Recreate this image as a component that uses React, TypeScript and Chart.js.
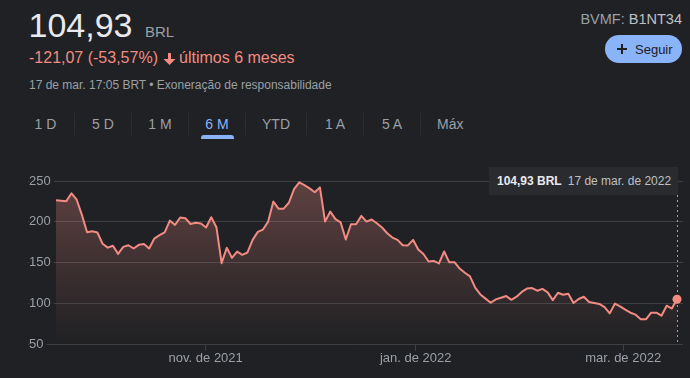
import React, { useEffect, useRef } from "react";
import { Chart, registerables } from "chart.js";

Chart.register(...registerables);

// ---- data ----
const prices: number[] = [
  226.3, 225.8, 225.3, 234.9, 227, 208.4, 187.2, 188.4, 186.8, 173,
  168.2, 170.6, 160.6, 169.2, 171.2, 167.2, 171.7, 172.7, 167.2, 179.4,
  183.5, 187, 201.4, 196.1, 205.2, 204.3, 197.2, 198.8, 197.8, 192.9,
  205.5, 193.3, 149.2, 168, 155.7, 163.3, 159.4, 162.3, 177.8, 187.6,
  190.4, 200.2, 224.7, 216, 216, 223.3, 240, 248.4, 245, 241,
  236.1, 242.2, 200.2, 212.5, 203.3, 199.2, 178.2, 197, 197, 207.2,
  200.2, 202.7, 198.2, 192.9, 185.9, 180.6, 177.8, 171.2, 171, 177.8,
  166, 160.4, 151.2, 152, 148.8, 163.5, 150.2, 150.4, 142.6, 137.4,
  132.9, 119.2, 110.8, 105.7, 100.6, 104.7, 106.8, 108.8, 104.2, 108,
  113.9, 118, 118.6, 115.4, 117.6, 113.3, 103.8, 112.9, 110.5, 111.7,
  100.3, 105.2, 108, 101.5, 100.3, 99.2, 95.2, 87.6, 99.5, 96.2,
  92.1, 88.4, 86, 80.3, 80.3, 88.4, 88.4, 84.7, 97, 93.5,
  104.93,
];
const pointIndex: number[] = prices.map((_, i) => i);
const xTickPositions: number[] = [28.93, 69.5, 109.6];
const xTickLabels: string[] = ["nov. de 2021", "jan. de 2022", "mar. de 2022"];
const yTickValues: number[] = [50, 100, 150, 200, 250];
const tabs: string[] = ["1 D", "5 D", "1 M", "6 M", "YTD", "1 A", "5 A", "Máx"];
const activeTab = "6 M";

const priceText = "104,93";
const currency = "BRL";
const changeText = "-121,07 (-53,57%)";
const periodText = "últimos 6 meses";
const infoText = "17 de mar. 17:05 BRT • Exoneração de responsabilidade";
const exchangeText = "BVMF:";
const tickerText = "B1NT34";
const followText = "Seguir";
const tooltipPrice = "104,93 BRL";
const tooltipDate = "17 de mar. de 2022";

const FONT = "'Liberation Sans', Arial, sans-serif";
const BG = "#202124";
const RED = "#f28b82";
const GREY = "#9aa0a6";
const GRID = "#3c4043";

const markerPlugin = {
  id: "marker",
  beforeDatasetsDraw(chart: any) {
    const meta = chart.getDatasetMeta(0);
    const pt = meta.data[meta.data.length - 1];
    if (!pt) return;
    const ctx = chart.ctx;
    const x = Math.round(pt.x) + 0.5;
    ctx.save();
    ctx.strokeStyle = "#9aa0a6";
    ctx.lineWidth = 1;
    ctx.setLineDash([2, 3]);
    ctx.beginPath();
    ctx.moveTo(x, 30);
    ctx.lineTo(x, chart.chartArea.bottom);
    ctx.stroke();
    ctx.restore();
  },
};

function PriceChart() {
  const ref = useRef<HTMLCanvasElement | null>(null);
  useEffect(() => {
    if (!ref.current) return;
    Chart.defaults.font.family = FONT;
    const last = prices.length - 1;
    const chart = new Chart(ref.current, {
      type: "line",
      data: {
        datasets: [
          {
            data: pointIndex.map((i) => ({ x: i, y: prices[i] })),
            borderColor: RED,
            borderWidth: 2,
            borderJoinStyle: "round",
            tension: 0,
            fill: "start",
            backgroundColor: (c: any) => {
              const area = c.chart.chartArea;
              if (!area) return "rgba(0,0,0,0)";
              const g = c.chart.ctx.createLinearGradient(0, area.top, 0, area.bottom);
              g.addColorStop(0, "rgba(242,139,130,0.30)");
              g.addColorStop(1, "rgba(242,139,130,0.0)");
              return g;
            },
            pointRadius: (c: any) => (c.dataIndex === last ? 4.5 : 0),
            pointBackgroundColor: RED,
            pointBorderWidth: 0,
            pointHoverRadius: 0,
          } as any,
        ],
      },
      options: {
        responsive: false,
        animation: false,
        events: [],
        layout: { padding: { top: 16, right: 7, left: 0, bottom: 0 } },
        plugins: { legend: { display: false }, tooltip: { enabled: false } },
        scales: {
          x: {
            type: "linear",
            min: -5.41,
            max: 121.16,
            afterBuildTicks: (s: any) => {
              s.ticks = xTickPositions.map((v) => ({ value: v }));
            },
            afterFit: (s: any) => {
              s.height = 34;
            },
            grid: { drawOnChartArea: false, drawTicks: true, tickLength: 7, color: GRID },
            border: { display: false },
            ticks: {
              autoSkip: false,
              maxRotation: 0,
              color: GREY,
              font: { size: 13 },
              padding: 0,
              callback: (_v: any, i: number) => xTickLabels[i],
            },
          },
          y: {
            min: 50,
            max: 250,
            afterBuildTicks: (s: any) => {
              s.ticks = yTickValues.map((v) => ({ value: v }));
            },
            afterFit: (s: any) => {
              s.width = 28;
            },
            grid: { color: GRID, drawTicks: false, lineWidth: 1 },
            border: { display: false },
            ticks: {
              mirror: true,
              padding: 1,
              color: GREY,
              font: { size: 13 },
              showLabelBackdrop: true,
              backdropColor: BG,
              backdropPadding: { top: 0, bottom: 0, left: 0, right: 3 },
            } as any,
          },
        },
      },
      plugins: [markerPlugin],
    } as any);
    return () => chart.destroy();
  }, []);
  return (
    <canvas
      ref={ref}
      width={690}
      height={213}
      style={{ position: "absolute", left: 0, top: 165, width: 690, height: 213 }}
    />
  );
}

export default function App() {
  useEffect(() => {
    document.body.style.margin = "0";
    document.body.style.background = BG;
  }, []);
  const abs = (o: any): any => ({ position: "absolute", whiteSpace: "nowrap", ...o });
  return (
    <div
      style={{
        position: "relative",
        width: 690,
        height: 378,
        background: BG,
        overflow: "hidden",
        fontFamily: FONT,
      }}
    >
      <div style={abs({ left: 28.5, top: 8, fontSize: 34, lineHeight: "34px", color: "#e8eaed" })}>
        {priceText}
      </div>
      <div style={abs({ left: 145, top: 24, fontSize: 15, lineHeight: "15px", color: GREY })}>{currency}</div>
      <div style={abs({ left: 29, top: 50, fontSize: 16, lineHeight: "16px", color: RED })}>{changeText}</div>
      <svg width="13" height="12" viewBox="0 0 13 12" style={{ position: "absolute", left: 163, top: 52.5 }}>
        <path fill={RED} d="M5 0h3v6h4.5L6.5 12 0.5 6H5z" />
      </svg>
      <div style={abs({ left: 179, top: 50, fontSize: 16, lineHeight: "16px", color: RED })}>{periodText}</div>
      <div style={abs({ left: 29, top: 79, fontSize: 12, lineHeight: "12px", color: GREY })}>{infoText}</div>

      <div style={abs({ right: 8, top: 12, fontSize: 14.5, lineHeight: "14.5px", color: GREY })}>
        {exchangeText} <span style={{ color: "#bdc1c6" }}>{tickerText}</span>
      </div>
      <div
        style={abs({
          left: 605,
          top: 35,
          width: 77,
          height: 28,
          borderRadius: 14,
          background: "#8ab4f8",
        })}
      >
        <svg width="12" height="12" viewBox="0 0 12 12" style={{ position: "absolute", left: 11, top: 8 }}>
          <path d="M6 1v10M1 6h10" stroke="#202124" strokeWidth="2" />
        </svg>
        <div style={abs({ left: 30, top: 8, fontSize: 13, lineHeight: "13px", color: "#202124" })}>{followText}</div>
      </div>

      <div style={{ position: "absolute", left: 17, top: 113, height: 22, display: "flex" }}>
        {tabs.map((t, i) => (
          <div
            key={t}
            style={{
              position: "relative",
              boxSizing: "border-box",
              minWidth: 57,
              padding: "0 16px",
              height: 22,
              textAlign: "center",
              fontSize: 14,
              lineHeight: "14px",
              paddingTop: 4,
              color: t === activeTab ? "#8ab4f8" : GREY,
              borderLeft: i > 0 ? "1px solid #2c2d30" : "none",
              whiteSpace: "nowrap",
            }}
          >
            {t}
            {t === activeTab && (
              <div
                style={{
                  position: "absolute",
                  left: "50%",
                  marginLeft: -16,
                  width: 33,
                  height: 4,
                  top: 22,
                  background: "#8ab4f8",
                  borderRadius: "3px 3px 0 0",
                }}
              />
            )}
          </div>
        ))}
      </div>

      <PriceChart />

      <div
        style={abs({
          left: 489,
          top: 167,
          width: 189,
          height: 28,
          background: "#2a2b2e",
          display: "flex",
          alignItems: "center",
          paddingLeft: 8,
          boxSizing: "border-box",
          fontSize: 12,
        })}
      >
        <span style={{ fontWeight: "bold", color: "#e8eaed" }}>{tooltipPrice}</span>
        <span style={{ marginLeft: 6, color: "#bdc1c6" }}>{tooltipDate}</span>
      </div>
    </div>
  );
}
